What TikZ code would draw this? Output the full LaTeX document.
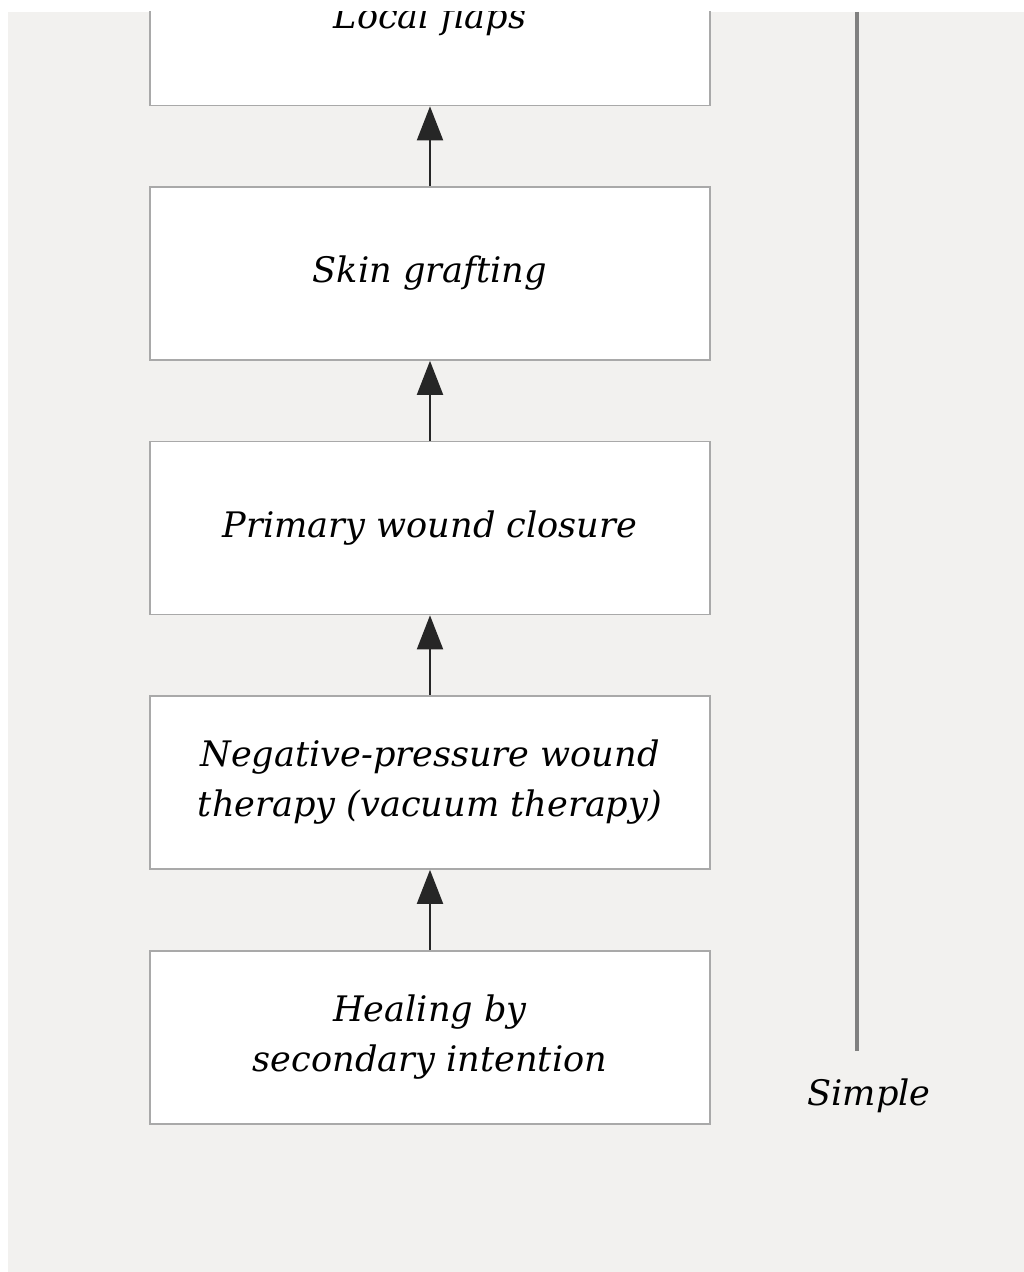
\documentclass[tikz,border=0pt]{standalone}
\usepackage{fontspec}
\setmainfont{DejaVu Serif}
\usetikzlibrary{arrows.meta}
\definecolor{panelgray}{HTML}{F2F1EF}
\definecolor{boxline}{HTML}{A9A9A9}

\begin{document}
\begin{tikzpicture}[
    stage/.style={draw=boxline, line width=1.2pt, fill=white, minimum width=14cm, minimum height=4.325cm, align=center, font=\fontsize{25}{35.6}\selectfont\itshape},
    up/.style={->, >={Triangle[length=0.85cm, width=0.65cm]}, line width=1.4pt, color=black!85}
  ]
    \useasboundingbox (0,0) rectangle (25.6,31.8);
    \fill [panelgray] (0.2,0) rectangle (25.6,31.5);
    \begin{scope}
    \clip (0.2,0) rectangle (25.6,31.5);
    \node [stage] (flaps) at (10.75,31.325) {Local flaps};
    \node [stage] (graft) at (10.75,24.9625) {Skin grafting};
    \node [stage] (closure) at (10.75,18.6) {Primary wound closure};
    \node [stage] (npwt) at (10.75,12.2375) {Negative-pressure wound\\therapy (vacuum therapy)};
    \node [stage] (healing) at (10.75,5.8625) {Healing by\\secondary intention};
    \end{scope}
    \draw [up] (healing.north) -- (npwt.south);
    \draw [up] (npwt.north) -- (closure.south);
    \draw [up] (closure.north) -- (graft.south);
    \draw [up] (graft.north) -- (flaps.south);
    % scale of complexity
    \coordinate (scaletop) at (21.425,31.5);
    \coordinate (scalebot) at (21.425,5.525);
    \draw [line width=2.2pt, color=black!50] (scaletop) -- (scalebot);
    \node [anchor=base, font=\fontsize{25}{35.6}\selectfont\itshape] (simple) at (21.725,4.15) {Simple};
\end{tikzpicture}
\end{document}
